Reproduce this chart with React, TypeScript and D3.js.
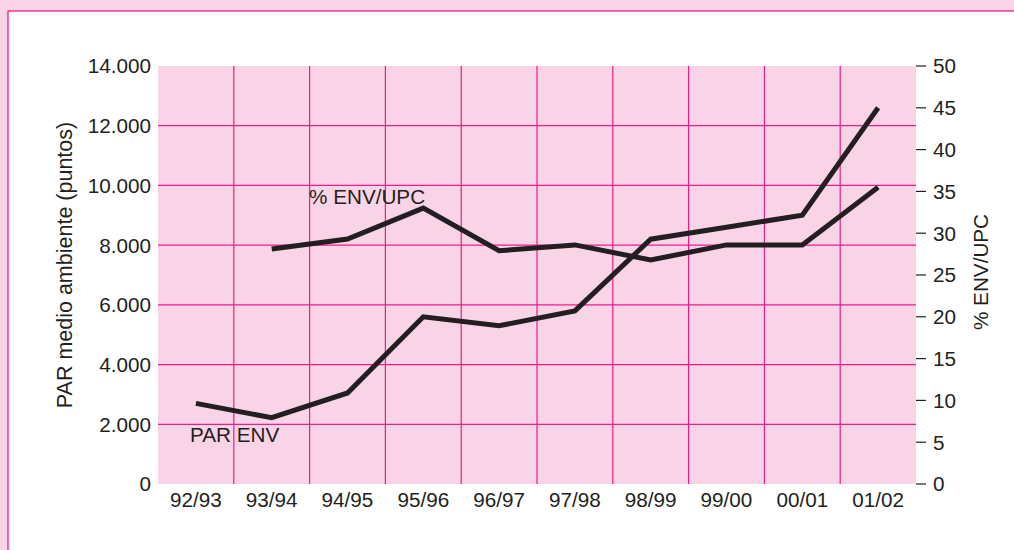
import React from "react";
import * as d3 from "d3";

const categories = ["92/93", "93/94", "94/95", "95/96", "96/97", "97/98", "98/99", "99/00", "00/01", "01/02"];
const parEnv = [2700, 2220, 3050, 5600, 5300, 5800, 8200, 8600, 9000, 12600];
const pctEnvUpc: (number | null)[] = [null, 28.1, 29.3, 33.0, 27.9, 28.6, 26.8, 28.6, 28.6, 35.5];
const leftTicks = [0, 2000, 4000, 6000, 8000, 10000, 12000, 14000];
const rightTicks = [0, 5, 10, 15, 20, 25, 30, 35, 40, 45, 50];

const W = 1014;
const H = 550;
const M = { left: 158, right: 916, top: 66, bottom: 484 };
const PINK = "#f9d4e6";
const MAGENTA = "#ec1c8c";
const INK = "#231f20";
const FONT = "'Liberation Sans', Arial, Helvetica, sans-serif";

export default function App() {
  const x = d3.scaleBand<string>().domain(categories).range([M.left, M.right]).padding(0);
  const yL = d3.scaleLinear().domain([0, 14000]).range([M.bottom, M.top]);
  const yR = d3.scaleLinear().domain([0, 50]).range([M.bottom, M.top]);
  const cx = (c: string) => (x(c) as number) + x.bandwidth() / 2;
  const fmt = (v: number) => d3.format(",")(v).replace(/,/g, ".");

  const parLine = d3
    .line<number>()
    .x((_, i) => cx(categories[i]))
    .y((d) => yL(d));
  const pctLine = d3
    .line<number | null>()
    .defined((d) => d !== null)
    .x((_, i) => cx(categories[i]))
    .y((d) => yR(d as number));

  return (
    <svg width={W} height={H} style={{ position: "absolute", left: 0, top: 0, display: "block" }}>
      <rect x={0} y={0} width={W} height={H} fill={PINK} />
      <rect x={8} y={11} width={W} height={H} fill="#ffffff" stroke={MAGENTA} strokeWidth={1.3} />
      <rect x={M.left} y={M.top} width={M.right - M.left} height={M.bottom - M.top} fill={PINK} />
      {leftTicks
        .filter((t) => t > 0 && t < 14000)
        .map((t) => (
          <line key={"h" + t} x1={M.left} x2={M.right} y1={yL(t)} y2={yL(t)} stroke={MAGENTA} strokeWidth={1.2} />
        ))}
      {categories.slice(1).map((c) => (
        <line key={"v" + c} x1={x(c)} x2={x(c)} y1={M.top} y2={M.bottom} stroke={MAGENTA} strokeWidth={1.2} />
      ))}
      <path d={parLine(parEnv) || ""} fill="none" stroke={INK} strokeWidth={5} strokeLinejoin="miter" />
      <path d={pctLine(pctEnvUpc) || ""} fill="none" stroke={INK} strokeWidth={5} strokeLinejoin="miter" />
      <g fontFamily={FONT} fontSize={20.7} fill={INK}>
        {leftTicks.map((t) => (
          <text key={"l" + t} x={151} y={yL(t)} dy="0.36em" textAnchor="end">
            {fmt(t)}
          </text>
        ))}
        {rightTicks.map((t) => (
          <g key={"r" + t}>
            <line x1={916} x2={926} y1={yR(t)} y2={yR(t)} stroke={INK} strokeWidth={1.2} />
            <text x={933} y={yR(t)} dy="0.36em" textAnchor="start">
              {t}
            </text>
          </g>
        ))}
        {categories.map((c) => (
          <text key={"c" + c} x={cx(c)} y={507} textAnchor="middle">
            {c}
          </text>
        ))}
        <text transform={`translate(72,265) rotate(-90)`} textAnchor="middle" fontSize={21.5}>
          PAR medio ambiente (puntos)
        </text>
        <text transform={`translate(988,272) rotate(-90)`} textAnchor="middle">
          % ENV/UPC
        </text>
        <text x={309} y={204}>% ENV/UPC</text>
        <text x={190} y={442}>PAR ENV</text>
      </g>
    </svg>
  );
}
